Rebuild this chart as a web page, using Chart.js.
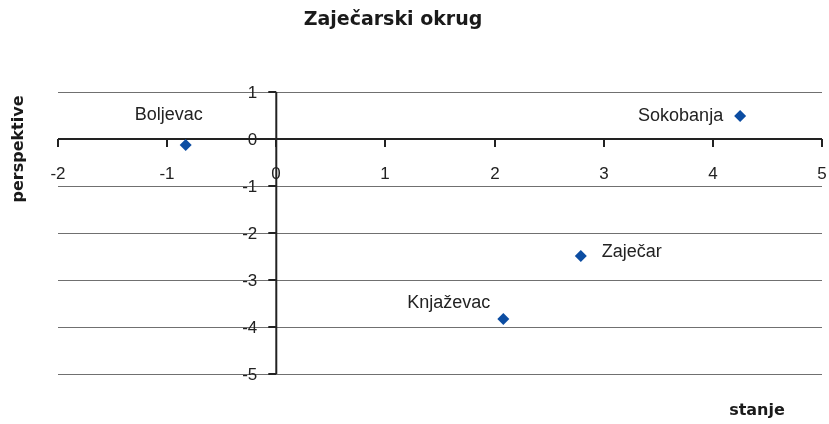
<!DOCTYPE html>
<html>
<head>
<meta charset="utf-8">
<script src="https://cdn.jsdelivr.net/npm/chart.js@4/dist/chart.umd.min.js"></script>
<style>
html,body{margin:0;padding:0;background:#fff;}
#wrap{width:829px;height:424px;}
</style>
</head>
<body>
<div id="wrap"><canvas id="c" width="829" height="424"></canvas></div>
<script>
// ---- data ----
const names = ['Boljevac', 'Sokobanja', 'Zaječar', 'Knjaževac'];
const stanje = [-0.83, 4.25, 2.79, 2.08];
const perspektive = [-0.13, 0.49, -2.49, -3.83];
const xTicks = [-2, -1, 0, 1, 2, 3, 4, 5];
const yTicks = [1, 0, -1, -2, -3, -4, -5];
const chartTitle = 'Zaječarski okrug';
const xTitle = 'stanje';
const yTitle = 'perspektive';

const points = names.map((n, i) => ({x: stanje[i], y: perspektive[i]}));

// label placement (style, not data)
const labelPlace = [
  {align: 'center', dx: -17, dy: -30},
  {align: 'right', dx: -17, dy: 0},
  {align: 'left', dx: 21, dy: -4},
  {align: 'right', dx: -13, dy: -16}
];

const axisColor = '#222222';
const tickFont = '17px "Liberation Sans", Arial, sans-serif';

const crossAxes = {
  id: 'crossAxes',
  beforeDatasetsDraw(chart) {
    const ctx = chart.ctx;
    const xs = chart.scales.x, ys = chart.scales.y;
    const x0 = xs.getPixelForValue(0), y0 = ys.getPixelForValue(0);
    ctx.save();
    ctx.strokeStyle = axisColor;
    ctx.lineWidth = 2;
    // horizontal axis
    ctx.beginPath();
    ctx.moveTo(xs.left, y0); ctx.lineTo(xs.right, y0);
    ctx.stroke();
    // vertical axis
    ctx.beginPath();
    ctx.moveTo(x0, ys.top); ctx.lineTo(x0, ys.bottom);
    ctx.stroke();
    // x tick marks and labels
    ctx.fillStyle = '#222';
    ctx.font = tickFont;
    ctx.textAlign = 'center';
    ctx.textBaseline = 'middle';
    xTicks.forEach(v => {
      const px = Math.round(xs.getPixelForValue(v));
      ctx.beginPath();
      ctx.moveTo(px, y0); ctx.lineTo(px, y0 + 8);
      ctx.stroke();
      ctx.fillText(String(v), px, y0 + 35);
    });
    // y tick marks and labels
    ctx.textAlign = 'right';
    yTicks.forEach(v => {
      const py = Math.round(ys.getPixelForValue(v));
      ctx.beginPath();
      ctx.moveTo(x0 - 8, py); ctx.lineTo(x0, py);
      ctx.stroke();
      ctx.fillText(String(v), x0 - 19, py + 1);
    });
    ctx.restore();
  },
  afterDatasetsDraw(chart) {
    const ctx = chart.ctx;
    const meta = chart.getDatasetMeta(0);
    ctx.save();
    ctx.fillStyle = '#222';
    ctx.font = '18px "Liberation Sans", Arial, sans-serif';
    ctx.textBaseline = 'middle';
    meta.data.forEach((el, i) => {
      const p = labelPlace[i];
      ctx.textAlign = p.align;
      ctx.fillText(names[i], el.x + p.dx, el.y + p.dy);
    });
    // titles
    ctx.fillStyle = '#1a1a1a';
    ctx.textAlign = 'center';
    ctx.font = 'bold 19px "DejaVu Sans", sans-serif';
    ctx.fillText(chartTitle, 393, 20);
    ctx.font = 'bold 16px "DejaVu Sans", sans-serif';
    ctx.fillText(xTitle, 757, 411);
    ctx.translate(19, 149);
    ctx.rotate(-Math.PI / 2);
    ctx.fillText(yTitle, 0, 0);
    ctx.restore();
  }
};

new Chart(document.getElementById('c'), {
  type: 'scatter',
  data: {
    datasets: [{
      data: points,
      pointStyle: 'rectRot',
      pointRadius: 6,
      pointHoverRadius: 6,
      backgroundColor: '#0C4DA2',
      borderColor: '#0C4DA2',
      borderWidth: 0
    }]
  },
  options: {
    responsive: false,
    animation: false,
    events: [],
    layout: {padding: {left: 58, top: 92, right: 7, bottom: 42}},
    plugins: {legend: {display: false}, title: {display: false}, tooltip: {enabled: false}},
    scales: {
      x: {
        type: 'linear', min: -2, max: 5,
        ticks: {display: false, stepSize: 1},
        grid: {display: false},
        border: {display: false}
      },
      y: {
        type: 'linear', min: -5, max: 1,
        ticks: {display: false, stepSize: 1},
        grid: {display: true, color: '#707070', lineWidth: 1, drawTicks: false},
        border: {display: false}
      }
    }
  },
  plugins: [crossAxes]
});
</script>
</body>
</html>
